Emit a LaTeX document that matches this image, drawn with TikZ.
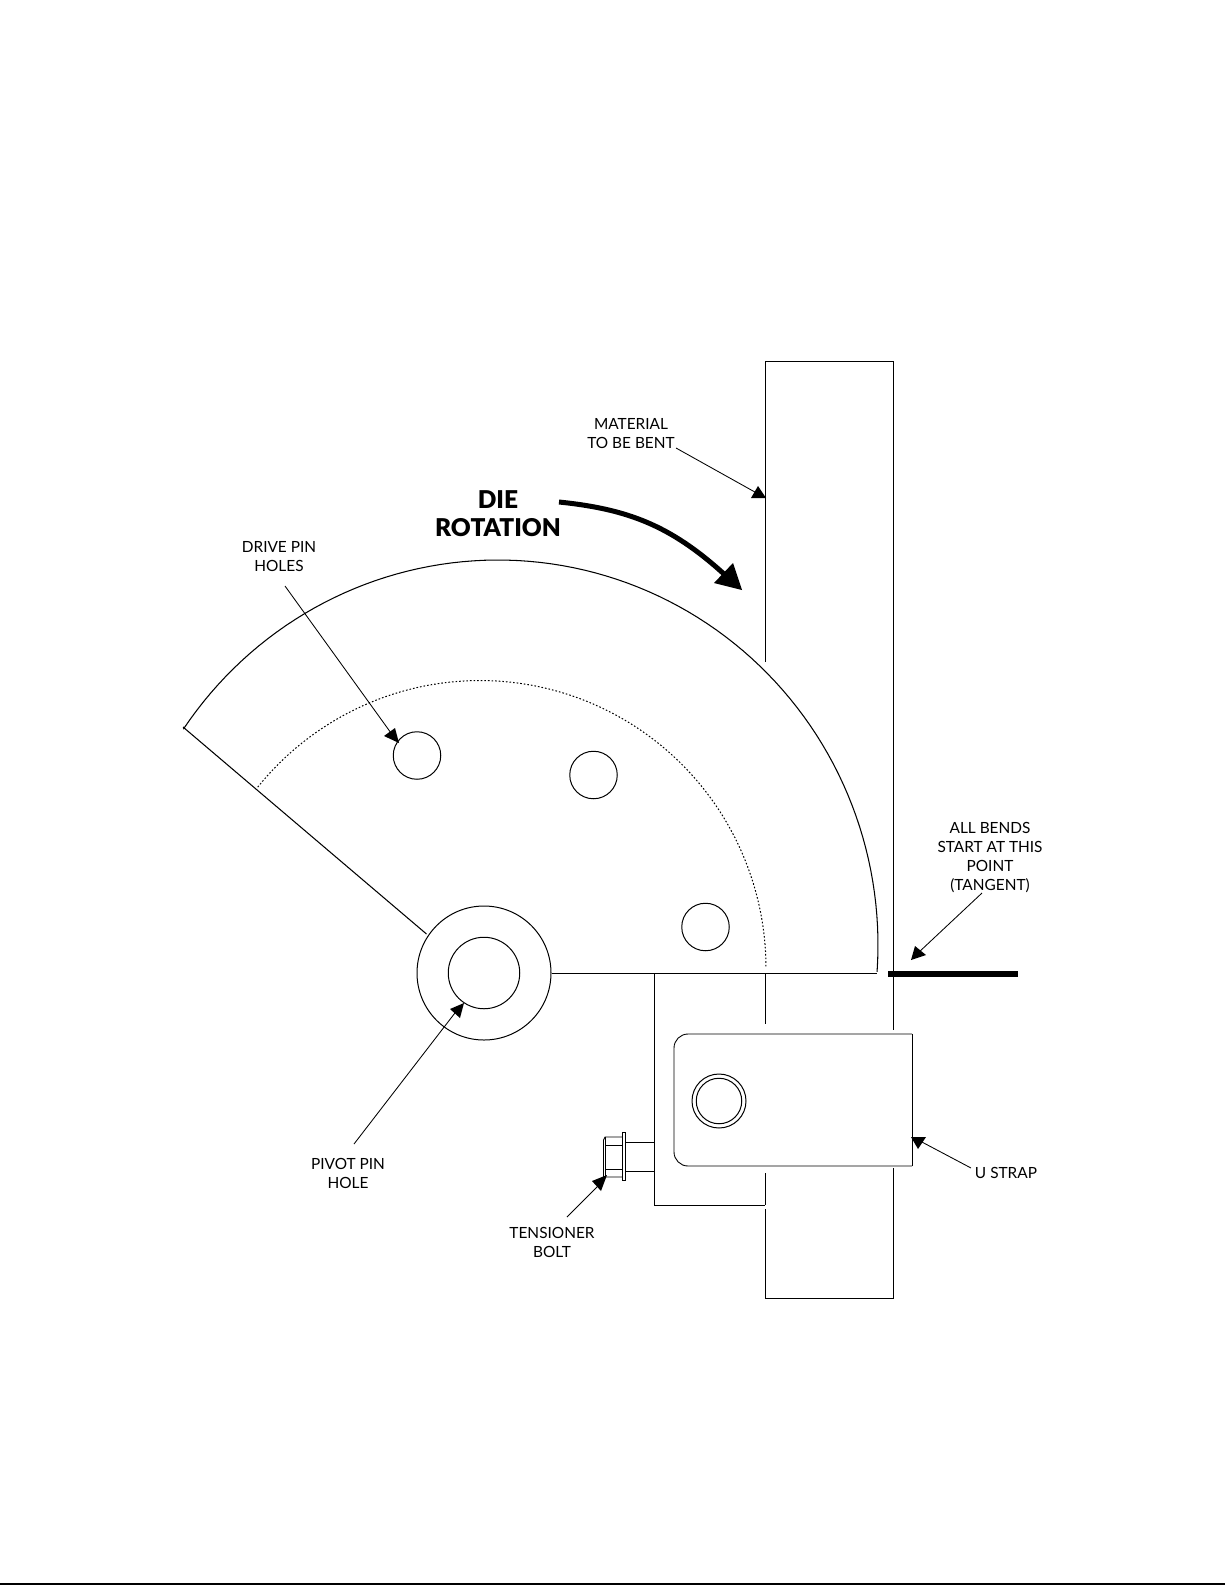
\documentclass[tikz,border=0pt]{standalone}
\usepackage{fontspec}
\setmainfont{Lato}
\newfontfamily\heavyf{Lato Black}
\tikzset{
  part/.style={draw=black,line width=0.9pt,line cap=butt},
  thinl/.style={draw=black,line width=1pt},
  leader/.style={draw=black,line width=0.85pt},
  head/.style={fill=black,draw=none},
  hole/.style={circle,draw=black,line width=1pt,inner sep=0pt,fill=none},
  lab/.style={font=\fontsize{15.4}{19}\selectfont,align=center,inner sep=0pt,text=black},
  bigl/.style={font=\fontsize{24.5}{28}\heavyf,align=center,inner sep=0pt}
}
\begin{document}
\begin{tikzpicture}[x=1pt,y=-1pt]
\useasboundingbox (0,0) rectangle (1225,1585);
% material
\draw[part] (765.3,662) -- (765.3,361.3) -- (893.3,361.3) -- (893.3,1030);
\draw[part] (765.3,973) -- (765.3,1024);
\draw[part] (765.3,1173) -- (765.3,1205);
\draw[part] (765.3,1209) -- (765.3,1298.3) -- (893.3,1298.3) -- (893.3,1168);
% die outline
\node[hole,minimum size=134pt] (pivotouter) at (484,973) {};
\node[hole,minimum size=71.5pt] (pivotinner) at (484,973) {};
\coordinate (tip) at (183,727);
\coordinate (corner) at (877,973);
\draw[part,line width=1.05pt] plot[domain=145.9:-4,samples=90] ({498+380*cos(\x)},{945-385*sin(\x)});
\draw[part,line width=1.05pt] (tip) -- (426.5,934);
\draw[part] (pivotouter.east) -- (corner);
\draw[thinl,dash pattern=on 1.6pt off 2pt] plot[domain=141:0,samples=90] ({480+286*cos(\x)},{968-287.5*sin(\x)});
% drive pin holes
\node[hole,minimum size=47.5pt] (pin1) at (417,755.5) {};
\node[hole,minimum size=47.5pt] (pin2) at (593.5,775) {};
\node[hole,minimum size=47.5pt] (pin3) at (705.5,927) {};
% bracket
\draw[part] (654.3,973) -- (654.3,1205.3) -- (765.3,1205.3);
% U strap
\draw[part,rounded corners=14pt] (912,1034) -- (674,1034) -- (674,1166) -- (912,1166);
\draw[part] (912,1034) -- (912,1166);
\node[hole,minimum size=54pt] (ustrapouter) at (719,1101) {};
\node[hole,minimum size=45.5pt] (ustrapinner) at (719,1101) {};
% bolt
\draw[part] (625.7,1142) -- (654,1142);
\draw[part] (625.7,1171) -- (654,1171);
\draw[part] (622.3,1132) rectangle (625.7,1180);
\draw[part] (622.3,1137) -- (605,1137) -- (603.5,1140) -- (603.5,1177) -- (622.3,1177);
\draw[part] (605,1137) -- (605,1177);
\draw[part] (605,1145) -- (622.3,1145);
\draw[part] (605,1169) -- (622.3,1169);
% thick tangent mark
\draw[line width=6pt] (888,973.5) -- (1018,973.5);
% labels
\node[lab] (material) at (631,434) {MATERIAL\\TO BE BENT};
\node[bigl] (dierot) at (498,514) {DIE\\ROTATION};
\node[lab] (drive) at (279,557) {DRIVE PIN\\HOLES};
\node[lab] (allbends) at (990,858) {ALL BENDS\\START AT THIS\\POINT\\(TANGENT)};
\node[lab] (pivot) at (348,1173) {PIVOT PIN\\HOLE};
\node[lab] (tens) at (552,1242) {TENSIONER\\BOLT};
\node[lab] (ustrap) at (1006,1173) {U STRAP};
% leaders
\coordinate (m0) at (676,448); \coordinate (m1) at (762,496);
\draw[leader] (m0) -- (m1);
\fill[head] (751,498) -- (766,498) -- (758,486) -- cycle;
\coordinate (d0) at (285,586); \coordinate (d1) at (391,733);
\draw[leader] (d0) -- (d1);
\fill[head] (384,736) -- (395,728) -- (399,743) -- cycle;
\coordinate (p0) at (354,1144); \coordinate (p1) at (458,1009);
\draw[leader] (p0) -- (p1);
\fill[head] (450,1009) -- (464,1003) -- (460,1018) -- cycle;
\coordinate (t0) at (567,1217); \coordinate (t1) at (600,1184);
\draw[leader] (t0) -- (t1);
\fill[head] (592,1181) -- (607,1175) -- (601,1191) -- cycle;
\coordinate (u0) at (971,1168); \coordinate (u1) at (920,1141);
\draw[leader] (u0) -- (u1);
\fill[head] (911,1137) -- (926,1137) -- (918,1149) -- cycle;
\coordinate (a0) at (982,893); \coordinate (a1) at (918,953);
\draw[leader] (a0) -- (a1);
\fill[head] (911,960) -- (915,946) -- (926,955) -- cycle;
% rotation arrow
\coordinate (r0) at (559,502);
\coordinate (r3) at (724,574);
\draw[line width=5pt] (r0) .. controls (627,509) and (670,525) .. (r3);
\fill[head] (733,563) -- (714,583) -- (742,590) -- cycle;
% page rule
\draw[line width=1.6pt] (0,1584) -- (1225,1584);
\end{tikzpicture}
\end{document}
